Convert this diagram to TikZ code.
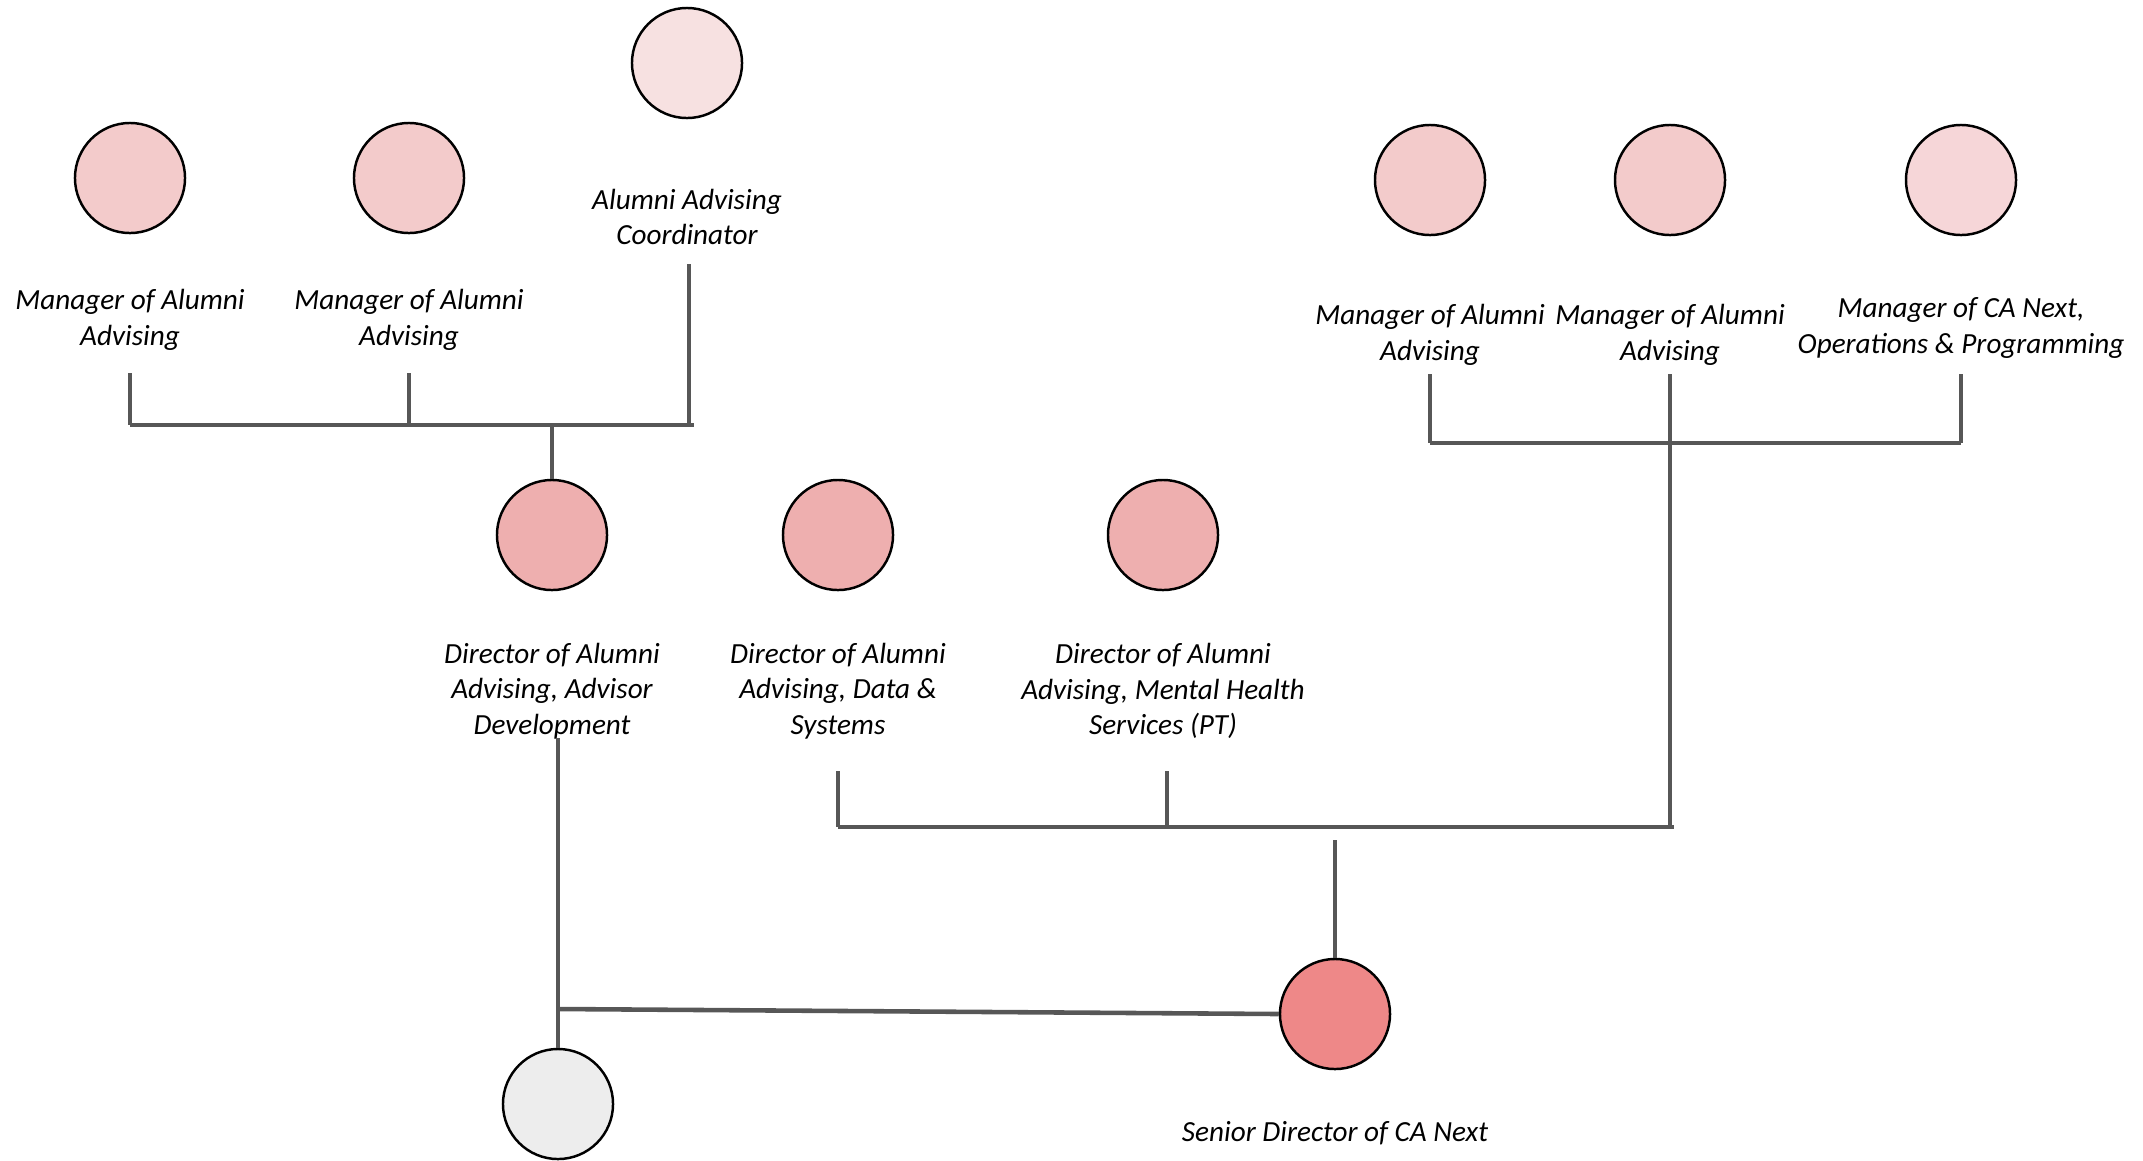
\documentclass[tikz,border=0pt]{standalone}
\usepackage{fontspec}
\setmainfont{Carlito}
\definecolor{linegray}{HTML}{575757}
\definecolor{coordfill}{HTML}{F7E1E1}
\definecolor{mgrfill}{HTML}{F3CBCB}
\definecolor{nextfill}{HTML}{F6D6D8}
\definecolor{dirfill}{HTML}{EEAFAF}
\definecolor{seniorfill}{HTML}{EE8888}
\definecolor{vacantfill}{HTML}{EDEDED}
\begin{document}
\begin{tikzpicture}[x=0.01cm,y=-0.01cm,
  person/.style={circle,draw=black,line width=0.7pt,minimum size=1.1cm,inner sep=0pt},
  role/.style={align=center,inner sep=0pt,font=\fontsize{8.3}{10.1}\selectfont\itshape},
  conn/.style={draw=linegray,line width=1pt},
  bar/.style={draw=linegray,line width=1.3pt}]
  \useasboundingbox (0,0) rectangle (2143,1160);
  % circles
  \node[person,fill=coordfill] (coord) at (687,63) {};
  \foreach \n/\x/\y in {mgrA/130/178, mgrB/409/178, mgrC/1430/180, mgrD/1670/180} {
      \node[person,fill=mgrfill] (\n) at (\x,\y) {};
  }
  \node[person,fill=nextfill] (mgrE) at (1961,180) {};
  \foreach \n/\x in {dirA/552, dirB/838, dirC/1163} {
      \node[person,fill=dirfill] (\n) at (\x,535) {};
  }
  \node[person,fill=seniorfill] (senior) at (1335,1014) {};
  \node[person,fill=vacantfill] (vacant) at (558,1104) {};
  % titles
  \node[role] (coordlbl) at (687,217) {Alumni Advising\\Coordinator};
  \node[role] (mgrAlbl) at (130,320) {Manager of Alumni\\Advising};
  \node[role] (mgrBlbl) at (409,320) {Manager of Alumni\\Advising};
  \node[role] (mgrClbl) at (1430,335) {Manager of Alumni\\Advising};
  \node[role] (mgrDlbl) at (1670,335) {Manager of Alumni\\Advising};
  \node[role] (mgrElbl) at (1961,328) {Manager of CA Next,\\Operations \& Programming};
  \node[role] (dirAlbl) at (552,691) {Director of Alumni\\Advising, Advisor\\Development};
  \node[role] (dirBlbl) at (838,691) {Director of Alumni\\Advising, Data \&\\Systems};
  \node[role] (dirClbl) at (1163,691) {Director of Alumni\\Advising, Mental Health\\Services (PT)};
  \node[role] (seniorlbl) at (1335,1133) {Senior Director of CA Next};
  % line ends
  \coordinate (lbar) at (130,425);
  \coordinate (lbarend) at (694,425);
  \coordinate (rbar) at (1430,443);
  \coordinate (rbarend) at (1961,443);
  \coordinate (mbar) at (838,827);
  \coordinate (mbarend) at (1674,827);
  \foreach \n/\x/\y in {tA/130/373, tB/409/373, tC/689/264, tD/1430/374, tE/1670/374,
                        tF/1961/374, tG/838/771, tH/1167/771, tS/1335/840, tV/558/738} {
      \coordinate (\n) at (\x,\y);
  }
  \coordinate (tVbend) at (558,1009);
  % left group
  \draw[bar] (lbar) -- (lbarend);
  \foreach \t in {tA,tB,tC} {
      \draw[conn] (\t) -- (\t |- lbar);
  }
  \draw[conn] (dirA.north |- lbar) -- (dirA.north);
  % right group
  \draw[bar] (rbar) -- (rbarend);
  \foreach \t in {tD,tF} {
      \draw[conn] (\t) -- (\t |- rbar);
  }
  \draw[conn] (tE) -- (tE |- mbar);
  % middle group
  \draw[bar] (mbar) -- (mbarend);
  \foreach \t in {tG,tH} {
      \draw[conn] (\t) -- (\t |- mbar);
  }
  \draw[conn] (tS) -- (senior.north);
  % bottom
  \draw[conn] (tV) -- (vacant.north);
  \draw[bar] (tVbend) -- (senior.west);
\end{tikzpicture}
\end{document}
